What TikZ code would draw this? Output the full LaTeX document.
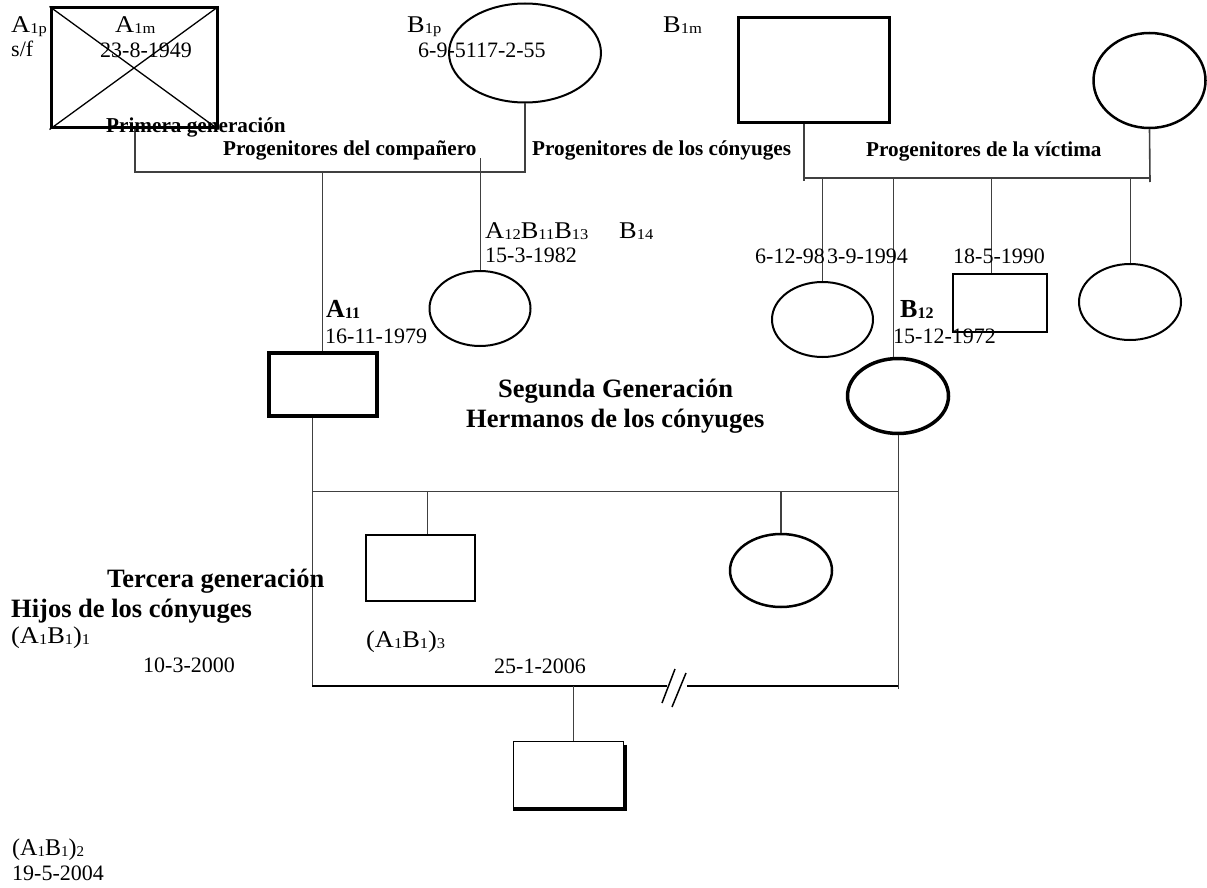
\documentclass[tikz,border=0pt]{standalone}
\usepackage{fontspec}
\setmainfont{Liberation Serif}
\newfontfamily\wideserif{Liberation Serif}[FakeStretch=1.1]
\usetikzlibrary{shapes.geometric,calc}
\newcommand\lo[1]{\raisebox{-1pt}{\fontsize{15}{15}\selectfont #1}}
\newcommand\blo[1]{\raisebox{-1pt}{\fontsize{16}{16}\selectfont #1}}
\tikzset{
  txt/.style={anchor=base west, inner sep=0pt, font=\fontsize{22}{24}\selectfont},
  ltxt/.style={anchor=base west, inner sep=0pt, font=\wideserif\fontsize{24}{26}\selectfont},
  mtxt/.style={anchor=base west, inner sep=0pt, font=\fontsize{24}{26}\selectfont},
  btxt/.style={anchor=base west, inner sep=0pt, font=\bfseries\fontsize{21.2}{24}\selectfont},
  bigtxt/.style={anchor=base west, inner sep=0pt, font=\bfseries\fontsize{26.5}{30}\selectfont},
  idtxt/.style={anchor=base west, inner sep=0pt, font=\bfseries\fontsize{26}{30}\selectfont},
  box/.style={draw, rectangle, inner sep=0pt, line width=2.5pt},
  oval/.style={draw, ellipse, inner sep=0pt, line width=2pt},
  link/.style={line width=1pt, black!75},
}
\begin{document}
\begin{tikzpicture}[x=1pt,y=-1pt]
\useasboundingbox (0,0) rectangle (1207,888);
% ---------- first generation ----------
\node[box, line width=3pt, minimum width=166pt, minimum height=120pt] (A1) at (134,68) {};
\draw[line width=1.3pt] (A1.north west) -- (A1.south east) (A1.south west) -- (A1.north east);
\node[oval, minimum width=152pt, minimum height=99pt] (B1p) at (525,53) {};
\node[box, line width=3pt, minimum width=151pt, minimum height=105pt] (B1m) at (814,70) {};
\node[oval, line width=2.5pt, minimum width=112pt, minimum height=95pt] (Bm) at (1149.5,80.5) {};
% ---------- second generation ----------
\node[box, line width=4pt, minimum width=108pt, minimum height=63pt] (A11) at (322.5,384) {};
\node[oval, minimum width=101pt, minimum height=75pt] (A12) at (480,308.5) {};
\node[oval, minimum width=101pt, minimum height=75pt] (S1) at (822.5,319.5) {};
\node[oval, line width=3.5pt, minimum width=101pt, minimum height=75pt] (B12) at (898,396) {};
\node[box, minimum width=94pt, minimum height=58pt] (S3) at (1000,303) {};
\node[oval, minimum width=102pt, minimum height=76pt] (S4) at (1130,302) {};
% ---------- third generation ----------
\node[box, minimum width=109pt, minimum height=66pt] (C3) at (420.5,568) {};
\node[oval, line width=2.5pt, minimum width=102pt, minimum height=73pt] (C4) at (781,570.5) {};
\node[box, line width=1pt, minimum width=110pt, minimum height=66pt] (C2) at (568,774) {};
\draw[line width=3pt] ($(C2.north east)+(1.5,4)$) -- ($(C2.south east)+(1.5,2)$) -- ($(C2.south west)+(0,2)$);
% ---------- connectors, top left ----------
\coordinate (tL) at (135,172);
\coordinate (tR) at (525,172);
\draw[link, line width=1.3pt] (A1.south -| tL) -- (tL) -- (tR) -- (B1p.south);
\draw[link] (A11.north |- tL) -- (A11.north);
\coordinate (a12top) at (480,158);
\draw[link] (a12top) -- (A12.north);
% ---------- connectors, top right ----------
\coordinate (rL) at (804,178);
\coordinate (rR) at (1150,178);
\draw[link, line width=1.6pt] (B1m.south -| rL) -- ([yshift=-3pt]rL);
\draw[link, line width=1.6pt] (Bm.south) -- ([yshift=-4pt]rR);
\draw[link, line width=1.6pt] (rL) -- (rR);
\draw[link] (S1.north |- rL) -- (S1.north);
\coordinate (d2) at (893,178);
\draw[link] (d2) -- (d2 |- B12.north);
\coordinate (d3) at (991,178);
\draw[link] (d3) -- (d3 |- S3.north);
\draw[link] (S4.north |- rL) -- (S4.north);
% ---------- family lines ----------
\coordinate (fL) at (312,491);
\coordinate (fR) at (898,491);
\coordinate (bL) at (312,686);
\coordinate (bR) at (898,686);
\draw[link] (fL |- A11.south) -- (bL);
\draw[link] (B12.south) -- ([yshift=-3pt]bR);
\draw[link] (fL) -- (fR);
\coordinate (c3d) at (427,491);
\draw[link] (c3d) -- (c3d |- C3.north);
\draw[link, line width=1.5pt] (C4.north |- fL) -- (C4.north);
\coordinate (bk1) at (667,686);
\coordinate (bk2) at (687,686);
\draw[line width=2pt] (bL) -- (bk1) (bk2) -- (bR);
\draw[line width=1.5pt] (662,703) -- (675,669) (672,707) -- (686,673);
\coordinate (c2d) at (573,686);
\draw[link] (c2d) -- (c2d |- C2.north);
% ---------- texts ----------
\node[ltxt] (tA1p) at (11,33) {A\lo{1p}};
\node[txt] (tsf) at (11,57) {s/f};
\node[ltxt] (tA1m) at (115,33) {A\lo{1m}};
\node[txt] (td1) at (100,58) {23-8-1949};
\node[btxt] (tprim) at (106,133) {Primera generación};
\node[btxt] (tpc) at (223,156) {Progenitores del compañero};
\node[ltxt] (tB1p) at (407,33) {B\lo{1p}};
\node[txt] (td2) at (418,58) {6-9-5117-2-55};
\node[ltxt] (tB1m) at (663,33) {B\lo{1m}};
\node[btxt] (tpy) at (532,155) {Progenitores de los cónyuges};
\node[btxt] (tpv) at (866,157) {Progenitores de la víctima};
\node[ltxt] (tA12) at (485,238) {A\lo{12}B\lo{11}B\lo{13}};
\node[ltxt] (tB14) at (619,238) {B\lo{14}};
\node[txt] (td3) at (485,262) {15-3-1982};
\node[idtxt] (tA11) at (326,317) {A\blo{11}};
\node[txt] (td4) at (325,343) {16-11-1979};
\node[txt] (td5) at (755,263) {6-12-98};
\node[txt] (td6) at (827,263) {3-9-1994};
\node[txt] (td7) at (953,263) {18-5-1990};
\node[idtxt] (tB12) at (900,317) {B\blo{12}};
\node[txt] (td8) at (893,343) {15-12-1972};
\node[bigtxt] (tseg) at (498,397) {Segunda Generación};
\node[bigtxt] (therm) at (466,427) {Hermanos de los cónyuges};
\node[bigtxt] (tterc) at (107,587) {Tercera generación};
\node[bigtxt] (thijos) at (11,617) {Hijos de los cónyuges};
\node[ltxt] (tc1) at (11,643) {(A\lo{1}B\lo{1})\lo{1}};
\node[txt] (td9) at (143,672) {10-3-2000};
\node[ltxt] (tc3) at (366,647) {(A\lo{1}B\lo{1})\lo{3}};
\node[txt] (td10) at (494,673) {25-1-2006};
\node[mtxt] (tc2) at (12,855) {(A\lo{1}B\lo{1})\lo{2}};
\node[txt] (td11) at (12,880) {19-5-2004};
\end{tikzpicture}
\end{document}
